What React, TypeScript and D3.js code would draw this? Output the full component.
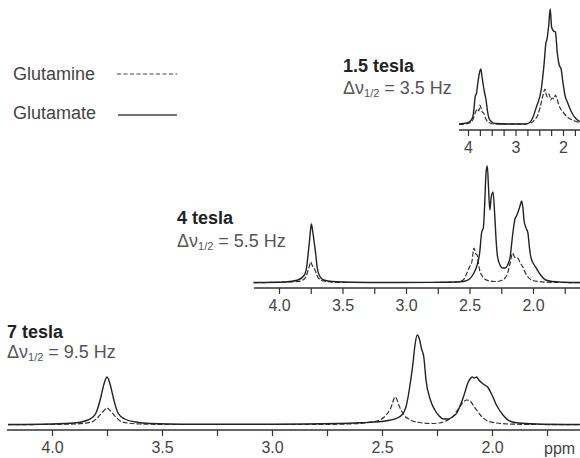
import React, { useEffect, useRef } from "react";
import * as d3 from "d3";

type Pt = [number, number];

// ---- 7 tesla spectra: [ppm, intensity] ----
const glu7: Pt[] = [
  [4.2, 0.5], [4.0, 1], [3.9, 2], [3.85, 4], [3.82, 7], [3.8, 12], [3.78, 26], [3.765, 40], [3.75, 48],
  [3.735, 40], [3.72, 26], [3.7, 12], [3.67, 6], [3.62, 3], [3.55, 1.5], [3.4, 0.8], [3.0, 0.8],
  [2.7, 1.5], [2.6, 2.2], [2.5, 3.5], [2.46, 5], [2.43, 7], [2.41, 10], [2.4, 13], [2.39, 19], [2.38, 30],
  [2.37, 44], [2.36, 60], [2.35, 80], [2.34, 90], [2.33, 86], [2.32, 76], [2.31, 68], [2.3, 45], [2.28, 25],
  [2.26, 15], [2.24, 9], [2.22, 6], [2.2, 6], [2.18, 8], [2.16, 12], [2.14, 22], [2.13, 28], [2.12, 35],
  [2.11, 42], [2.1, 46], [2.09, 48], [2.08, 47], [2.07, 48], [2.06, 45], [2.04, 41], [2.02, 38],
  [2.0, 30], [1.98, 20], [1.95, 10], [1.92, 4], [1.88, 2], [1.8, 1], [1.6, 0.5],
];
const gln7: Pt[] = [
  [4.2, 0.3], [3.9, 1], [3.82, 3], [3.79, 8], [3.77, 13], [3.75, 17], [3.73, 13], [3.71, 8], [3.68, 3],
  [3.6, 1], [3.4, 0.5], [2.8, 0.5], [2.6, 1.5], [2.55, 3], [2.51, 5], [2.49, 8], [2.46, 17], [2.44, 28],
  [2.42, 18], [2.4, 10], [2.37, 5], [2.33, 2.5], [2.28, 1.5], [2.24, 2], [2.21, 4], [2.18, 8], [2.15, 17],
  [2.13, 23], [2.115, 25], [2.1, 24], [2.08, 18], [2.06, 12], [2.045, 8], [2.02, 4], [1.98, 2],
  [1.9, 0.8], [1.6, 0.3],
];

// ---- 4 tesla spectra ----
const glu4: Pt[] = [
  [4.2, 0.5], [3.95, 1], [3.85, 3], [3.8, 8], [3.78, 18], [3.77, 30], [3.76, 42], [3.75, 55], [3.745, 59],
  [3.735, 52], [3.72, 38], [3.71, 28], [3.7, 16], [3.68, 7], [3.65, 3], [3.55, 1.2], [3.3, 0.5],
  [2.8, 0.6], [2.6, 1], [2.55, 1.5], [2.5, 4], [2.47, 9], [2.44, 18], [2.42, 30], [2.405, 50], [2.39, 56],
  [2.38, 80], [2.37, 110], [2.36, 117], [2.35, 95], [2.34, 73], [2.33, 85], [2.315, 91], [2.3, 65],
  [2.29, 42], [2.28, 27], [2.26, 18], [2.24, 15], [2.22, 15], [2.2, 18], [2.18, 26], [2.165, 43],
  [2.15, 58], [2.14, 65], [2.13, 67], [2.115, 72], [2.1, 78], [2.09, 82], [2.08, 76], [2.07, 62],
  [2.055, 55], [2.04, 50], [2.03, 38], [2.02, 28], [2.01, 23], [1.99, 18], [1.97, 14], [1.94, 8],
  [1.9, 3], [1.85, 1.5], [1.75, 0.8], [1.63, 0.5],
];
const gln4: Pt[] = [
  [4.2, 0.3], [3.85, 1.5], [3.8, 4], [3.78, 9], [3.765, 15], [3.75, 21], [3.74, 18], [3.73, 16], [3.72, 14],
  [3.705, 9], [3.69, 5], [3.65, 2], [3.5, 0.5], [2.8, 0.5], [2.6, 1], [2.55, 3], [2.52, 10], [2.5, 16],
  [2.48, 22], [2.465, 35], [2.45, 29], [2.44, 28], [2.43, 20], [2.42, 13], [2.4, 7], [2.38, 4], [2.34, 2],
  [2.3, 1.5], [2.26, 2], [2.22, 5], [2.2, 10], [2.18, 20], [2.16, 30], [2.145, 26], [2.12, 25], [2.1, 20],
  [2.08, 16], [2.06, 10], [2.04, 6], [2.01, 3], [1.96, 1.5], [1.85, 0.6], [1.63, 0.4],
];

// ---- 1.5 tesla spectra ----
const glu15: Pt[] = [
  [4.19, 1], [4.02, 2], [3.95, 4], [3.9, 8], [3.87, 18], [3.85, 28], [3.82, 32], [3.79, 43], [3.75, 54],
  [3.73, 56], [3.71, 50], [3.68, 40], [3.65, 32], [3.62, 25], [3.59, 14], [3.56, 7], [3.5, 3], [3.42, 1.5],
  [3.2, 1], [2.8, 1], [2.72, 2], [2.66, 5], [2.56, 18], [2.46, 35], [2.4, 60], [2.36, 82], [2.34, 85],
  [2.3, 100], [2.27, 116], [2.24, 98], [2.2, 94], [2.16, 93], [2.12, 72], [2.08, 60], [2.04, 56],
  [2.0, 42], [1.96, 30], [1.9, 22], [1.85, 16], [1.8, 11], [1.72, 6], [1.64, 3],
];
const gln15: Pt[] = [
  [4.19, 0.5], [3.97, 2], [3.9, 5], [3.85, 12], [3.8, 16], [3.77, 14], [3.75, 20], [3.72, 16], [3.7, 13],
  [3.67, 12], [3.64, 8], [3.6, 4], [3.54, 2], [3.45, 1], [2.8, 0.8], [2.68, 2], [2.6, 5], [2.53, 10],
  [2.46, 22], [2.42, 30], [2.38, 36], [2.35, 30], [2.32, 28], [2.29, 31], [2.26, 25], [2.23, 27],
  [2.19, 26], [2.16, 30], [2.13, 27], [2.1, 22], [2.06, 17], [2.0, 13], [1.95, 10], [1.88, 7], [1.8, 5],
  [1.7, 3], [1.64, 2],
];

// ---- axis ticks ----
const ticksHigh = [4.0, 3.75, 3.5, 3.25, 3.0, 2.75, 2.5, 2.25, 2.0, 1.75];
const labelsHigh = [4.0, 3.5, 3.0, 2.5, 2.0];
const ticksLow = [4.0, 3.75, 3.5, 3.25, 3.0, 2.75, 2.5, 2.25, 2.0, 1.75];
const labelsLow = [4, 3, 2];

const legendItems = ["Glutamine", "Glutamate"];
const fieldLabels = ["1.5 tesla", "4 tesla", "7 tesla"];
const linewidths = ["3.5", "5.5", "9.5"];

const FONT = "'Liberation Sans', Arial, Helvetica, sans-serif";
const W = 580;
const H = 458;

type Panel = {
  glu: Pt[];
  gln: Pt[];
  r0: number;
  r1: number;
  base: number;
  axisY: number;
  axisX0: number;
  ticks: number[];
  labels: number[];
  fmt: (d: number) => string;
  label: string;
  lw: string;
  tx: number;
  ty: number;
  ty2: number;
};

const panels: Panel[] = [
  { glu: glu15, gln: gln15, r0: 468, r1: 563, base: 125, axisY: 130, axisX0: 459, ticks: ticksLow, labels: labelsLow, fmt: d3.format("d"), label: fieldLabels[0], lw: linewidths[0], tx: 343, ty: 72, ty2: 94 },
  { glu: glu4, gln: gln4, r0: 279, r1: 533, base: 283, axisY: 288, axisX0: 254, ticks: ticksHigh, labels: labelsHigh, fmt: d3.format(".1f"), label: fieldLabels[1], lw: linewidths[1], tx: 177, ty: 224, ty2: 247 },
  { glu: glu7, gln: gln7, r0: 52, r1: 492, base: 425, axisY: 430, axisX0: 7, ticks: ticksHigh, labels: labelsHigh, fmt: d3.format(".1f"), label: fieldLabels[2], lw: linewidths[2], tx: 7, ty: 338, ty2: 358 },
];

function PanelView({ p }: { p: Panel }) {
  const axRef = useRef<SVGGElement>(null);
  const x = d3.scaleLinear().domain([4, 2]).range([p.r0, p.r1]);
  const y = d3.scaleLinear().domain([0, 100]).range([p.base, p.base - 100]);
  const line = d3
    .line<Pt>()
    .x((d) => x(d[0]))
    .y((d) => y(d[1]))
    .curve(d3.curveMonotoneX);

  useEffect(() => {
    if (!axRef.current) return;
    const g = d3.select(axRef.current);
    g.selectAll("*").remove();
    const axis = d3
      .axisBottom(x)
      .tickValues(p.ticks)
      .tickSize(6)
      .tickSizeOuter(0)
      .tickPadding(6)
      .tickFormat((d) => (p.labels.some((l) => Math.abs(l - (d as number)) < 1e-6) ? p.fmt(d as number) : ""));
    g.call(axis as any);
    g.select(".domain").remove();
    g.selectAll(".tick line").attr("stroke", "#333").attr("stroke-width", 1.2);
    g.selectAll(".tick text")
      .attr("fill", "#444")
      .attr("font-size", 16)
      .attr("font-family", FONT);
  }, []);

  return (
    <g>
      <line x1={p.axisX0} x2={W} y1={p.axisY} y2={p.axisY} stroke="#333" strokeWidth={1.3} />
      <g ref={axRef} transform={`translate(0,${p.axisY})`} />
      <path d={line(p.gln) || ""} fill="none" stroke="#333" strokeWidth={1.2} strokeDasharray="5,2" />
      <path d={line(p.glu) || ""} fill="none" stroke="#222" strokeWidth={1.4} />
      <text x={p.tx} y={p.ty} fontFamily={FONT} fontSize={18} fontWeight="bold" fill="#222">
        {p.label}
      </text>
      <text x={p.tx} y={p.ty2} fontFamily={FONT} fontSize={18} fill="#555">
        Δν
        <tspan fontSize={11} dy={3}>1/2</tspan>
        <tspan dy={-3}>{` = ${p.lw} Hz`}</tspan>
      </text>
    </g>
  );
}

export default function App() {
  return (
    <svg
      width={W}
      height={H}
      viewBox={`0 0 ${W} ${H}`}
      style={{ position: "absolute", left: 0, top: 0, background: "#fff" }}
    >
      <rect x={0} y={0} width={W} height={H} fill="#fff" />
      <text x={13} y={80} fontFamily={FONT} fontSize={18} fill="#444">{legendItems[0]}</text>
      <line x1={117} x2={177} y1={74} y2={74} stroke="#444" strokeWidth={1.2} strokeDasharray="4,2.5" />
      <text x={13} y={119} fontFamily={FONT} fontSize={18} fill="#444">{legendItems[1]}</text>
      <line x1={118} x2={177} y1={115} y2={115} stroke="#444" strokeWidth={1.3} />
      {panels.map((p, i) => (
        <PanelView key={i} p={p} />
      ))}
      <text x={544} y={454} fontFamily={FONT} fontSize={16} fill="#444">ppm</text>
    </svg>
  );
}
